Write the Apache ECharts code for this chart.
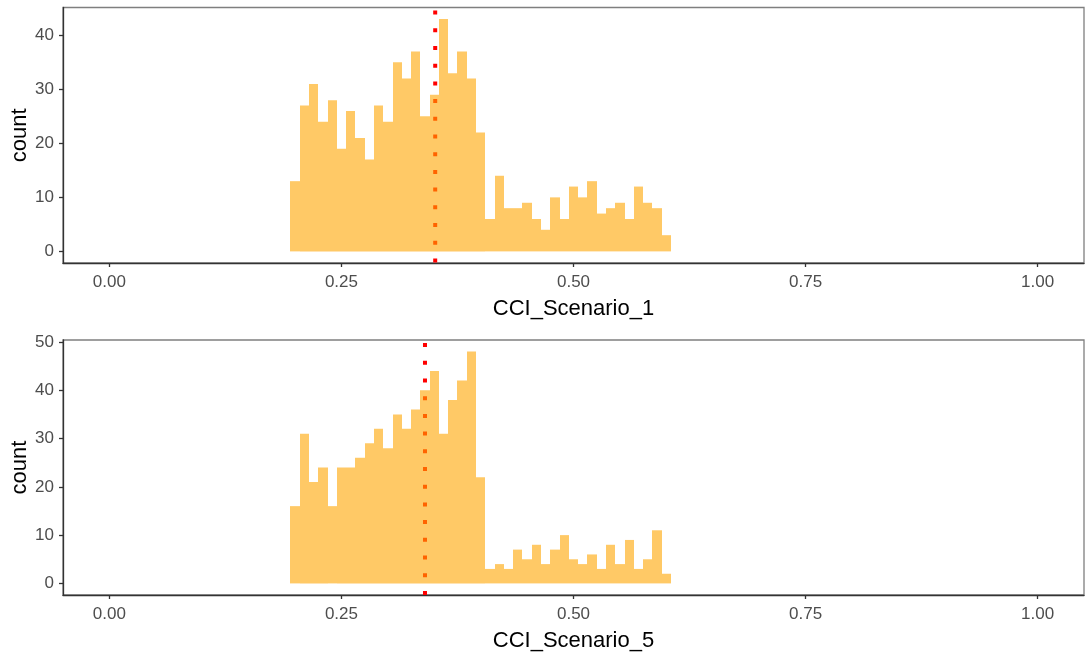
<!DOCTYPE html>
<html>
<head>
<meta charset="utf-8">
<script src="https://cdn.jsdelivr.net/npm/echarts@6/dist/echarts.min.js"></script>
<style>
  html, body { margin: 0; padding: 0; background: #fff; }
  #chart { width: 1086px; height: 659px; }
</style>
</head>
<body>
<div id="chart"></div>
<script>
// Bin centres (bin width 0.01)
const binCenters = [0.20,0.21,0.22,0.23,0.24,0.25,0.26,0.27,0.28,0.29,0.30,0.31,0.32,0.33,0.34,0.35,0.36,0.37,0.38,0.39,0.40,
                    0.41,0.42,0.43,0.44,0.45,0.46,0.47,0.48,0.49,0.50,0.51,0.52,0.53,0.54,0.55,0.56,0.57,0.58,0.59,0.60];
const binWidth = 0.01;

// Counts per bin
const countsScenario1 = [13,27,31,24,28,19,26,21,17,27,24,35,32,37,25,29,43,33,37,32,22,
                         6,14,8,8,9,6,4,10,6,12,10,13,7,8,9,6,12,9,8,3];
const countsScenario5 = [16,31,21,24,16,24,24,26,29,32,28,35,32,36,40,44,31,38,42,48,22,
                         3,4,3,7,5,8,4,7,10,5,4,6,3,8,4,9,3,5,11,2];

// Reference lines (mean CCI)
const meanScenario1 = 0.351;
const meanScenario5 = 0.340;

const xTicks = [0, 0.25, 0.5, 0.75, 1];
const yTicks1 = [0, 10, 20, 30, 40];
const yTicks5 = [0, 10, 20, 30, 40, 50];

const xRange = [-0.05, 1.05];
const yRange1 = [-2.15, 45.15];
const yRange5 = [-2.4, 50.4];

const FONT = '"Liberation Sans", Arial, sans-serif';
const TICK_COLOR = '#4d4d4d';

function histItem(params, api) {
  const x = api.value(0), y = api.value(1);
  const pTop = api.coord([x - binWidth / 2, y]);
  const pBase = api.coord([x + binWidth / 2, 0]);
  const x0 = Math.round(pTop[0]), x1 = Math.round(pBase[0]);
  return {
    type: 'rect',
    shape: { x: x0, y: pTop[1], width: x1 - x0, height: pBase[1] - pTop[1] },
    style: { fill: 'rgba(255,165,0,0.6)' }
  };
}

function xAxisCfg(gridIndex, name) {
  return {
    type: 'value', gridIndex, min: xRange[0], max: xRange[1],
    name, nameLocation: 'middle', nameGap: 35, nameMoveOverlap: false,
    nameTextStyle: { fontFamily: FONT, fontSize: 22, color: '#000' },
    splitLine: { show: false },
    axisLine: { show: true, onZero: false, lineStyle: { color: '#333', width: 1.3 } },
    axisTick: { show: true, length: 4, customValues: xTicks, lineStyle: { color: '#333', width: 1.3 } },
    axisLabel: {
      customValues: xTicks, margin: 11,
      fontFamily: FONT, fontSize: 17, color: TICK_COLOR,
      formatter: v => v.toFixed(2)
    }
  };
}

function yAxisCfg(gridIndex, range, ticks) {
  return {
    type: 'value', gridIndex, min: range[0], max: range[1],
    name: 'count', nameLocation: 'middle', nameGap: 32, nameRotate: 90, nameMoveOverlap: false,
    nameTextStyle: { fontFamily: FONT, fontSize: 22, color: '#000' },
    splitLine: { show: false },
    axisLine: { show: true, onZero: false, lineStyle: { color: '#333', width: 1.3 } },
    axisTick: { show: true, length: 4, customValues: ticks, lineStyle: { color: '#333', width: 1.3 } },
    axisLabel: {
      customValues: ticks, margin: 9,
      fontFamily: FONT, fontSize: 17, color: TICK_COLOR,
      formatter: v => String(Math.round(v))
    }
  };
}

function meanLine(idx, xVal, range) {
  return {
    type: 'line', xAxisIndex: idx, yAxisIndex: idx, z: 1,
    symbol: 'none', silent: true, animation: false,
    data: [[xVal, range[1]], [xVal, range[0]]],
    lineStyle: { color: '#ff0000', width: 4, type: [4, 13.7], dashOffset: 14.6, cap: 'butt' }
  };
}

const gridBase = { left: 63, right: 2, show: true, borderColor: '#7f7f7f', borderWidth: 1.3,
                   containLabel: false, outerBoundsMode: 'none' };

const chart = echarts.init(document.getElementById('chart'), null, { renderer: 'canvas' });
chart.setOption({
  animation: false,
  backgroundColor: '#fff',
  grid: [
    Object.assign({}, gridBase, { top: 7.5, height: 255.5 }),
    Object.assign({}, gridBase, { top: 340, height: 255 })
  ],
  xAxis: [xAxisCfg(0, 'CCI_Scenario_1'), xAxisCfg(1, 'CCI_Scenario_5')],
  yAxis: [yAxisCfg(0, yRange1, yTicks1), yAxisCfg(1, yRange5, yTicks5)],
  series: [
    meanLine(0, meanScenario1, yRange1),
    meanLine(1, meanScenario5, yRange5),
    {
      type: 'custom', xAxisIndex: 0, yAxisIndex: 0, z: 2,
      renderItem: histItem,
      encode: { x: 0, y: 1 },
      data: binCenters.map((c, i) => [c, countsScenario1[i]])
    },
    {
      type: 'custom', xAxisIndex: 1, yAxisIndex: 1, z: 2,
      renderItem: histItem,
      encode: { x: 0, y: 1 },
      data: binCenters.map((c, i) => [c, countsScenario5[i]])
    }
  ]
});
</script>
</body>
</html>
